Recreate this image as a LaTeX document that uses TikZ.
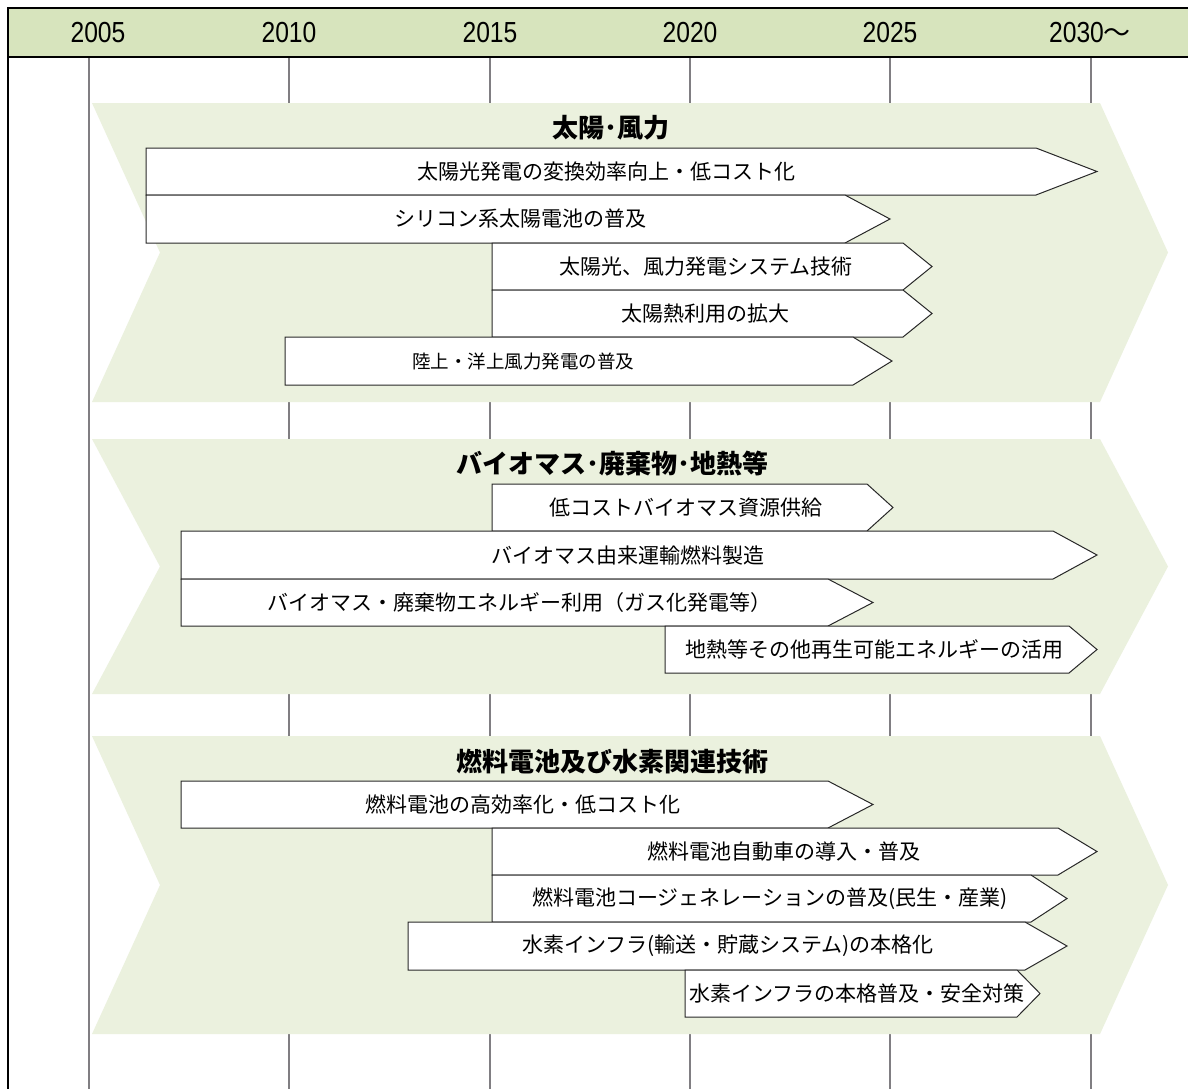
\documentclass[tikz,border=0pt]{standalone}
\usepackage{fontspec}
\newfontfamily\jp{Noto Sans CJK JP}
\newfontfamily\yearfont[FakeStretch=0.85]{Liberation Sans}
\definecolor{headfill}{RGB}{215,228,189}
\definecolor{chevfill}{RGB}{235,241,222}
\definecolor{yearline}{RGB}{128,126,130}
\definecolor{barline}{RGB}{40,40,40}
\tikzset{
  chev/.style={fill=chevfill, draw=none},
  barbox/.style={fill=white, draw=barline, line width=1pt, line join=miter},
  bartext/.style={font=\jp\fontsize{21}{21}\selectfont, inner sep=0pt, anchor=center},
  smalltext/.style={font=\jp\fontsize{18.5}{18.5}\selectfont},
  titletext/.style={font=\jp\bfseries\fontsize{26}{26}\selectfont, inner sep=0pt},
  yeartext/.style={font=\yearfont\fontsize{29}{29}\selectfont, inner sep=0pt},
  yl/.style={draw=yearline, line width=2pt},
  frameline/.style={draw=black, line width=2.2pt}
}
\newcommand\rbar[9][]{%
  \draw[barbox] (#3,#4) -- (#6,#4) -- (#7,{(#4+#5)/2}) -- (#6,#5) -- (#3,#5) -- cycle;
  \node[bartext,#1] (#2) at (#8,{(#4+#5)/2}) {#9};}
\newcommand\chevshape[2]{%
  \fill[chev] (92,#1) -- (1100,#1) -- (1168,{(#1+#2)/2}) -- (1100,#2) -- (92,#2) -- (160,{(#1+#2)/2}) -- cycle;}
\begin{document}
\begin{tikzpicture}[x=1pt,y=-1pt]
\useasboundingbox (0,0) rectangle (1188,1088);
\clip (0,0) rectangle (1188,1088);
\fill[white] (0,0) rectangle (1188,1088);
% header
\fill[headfill] (8,8) rectangle (1200,57);
% year lines
\foreach \x in {89,289,490,690,890,1091} \draw[yl] (\x,58) -- (\x,1090);
% frame
\draw[frameline] (1200,8) -- (8,8) -- (8,1095);
\draw[frameline] (8,57) -- (1200,57);
% year labels
\node[yeartext] (y2005) at (98,33) {2005};
\node[yeartext] (y2010) at (289,33) {2010};
\node[yeartext] (y2015) at (490,33) {2015};
\node[yeartext] (y2020) at (690,33) {2020};
\node[yeartext] (y2025) at (890,33) {2025};
\node[yeartext] (y2030) at (1090,33) {2030{\jp\fontsize{27}{27}\selectfont ～}};
% chevrons
\chevshape{103}{402}
\chevshape{439}{694}
\chevshape{736}{1034}
% titles
\node[titletext] (t1) at (611,128) {太陽･風力};
\node[titletext] (t2) at (612,464) {バイオマス･廃棄物･地熱等};
\node[titletext] (t3) at (612,762) {燃料電池及び水素関連技術};
% bars: chevron 1
\rbar{a1}{146}{148}{195}{1036}{1097}{606}{太陽光発電の変換効率向上・低コスト化}
\rbar{a2}{146}{195}{243}{845}{890}{520}{シリコン系太陽電池の普及}
\rbar{a3}{492}{243}{290}{903}{932}{706}{太陽光、風力発電システム技術}
\rbar{a4}{492}{290}{337}{903}{932}{705}{太陽熱利用の拡大}
\rbar[smalltext]{a5}{285}{337}{385}{853}{892}{523}{陸上・洋上風力発電の普及}
% chevron 2
\rbar{b1}{492}{484}{531}{867}{893}{686}{低コストバイオマス資源供給}
\rbar{b2}{181}{531}{579}{1053}{1097}{628}{バイオマス由来運輸燃料製造}
\rbar{b3}{181}{579}{626}{828}{873}{519}{バイオマス・廃棄物エネルギー利用（ガス化発電等）}
\rbar{b4}{665}{626}{673}{1069}{1097}{874}{地熱等その他再生可能エネルギーの活用}
% chevron 3
\rbar{c1}{181}{781}{828}{828}{873}{523}{燃料電池の高効率化・低コスト化}
\rbar{c2}{492}{828}{875}{1058}{1097}{784}{燃料電池自動車の導入・普及}
\rbar{c3}{492}{875}{922}{1031}{1067}{770}{燃料電池コージェネレーションの普及(民生・産業)}
\rbar{c4}{408}{922}{970}{1025}{1067}{728}{水素インフラ(輸送・貯蔵システム)の本格化}
\rbar{c5}{685}{970}{1017}{1017}{1040}{857}{水素インフラの本格普及・安全対策}
\end{tikzpicture}
\end{document}
